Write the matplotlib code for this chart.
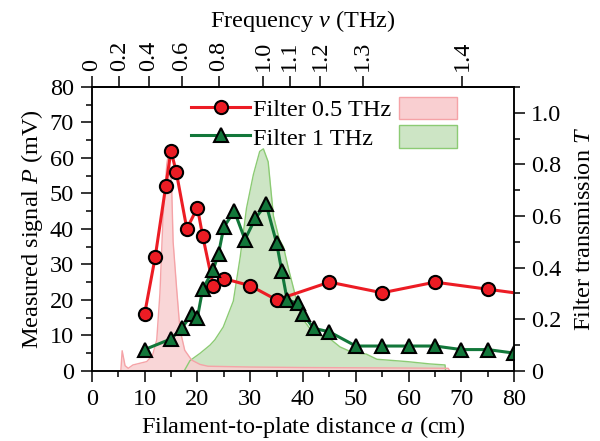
"""
Measured THz signal versus filament-to-plate distance for two band-pass
filters, with the filter transmission curves drawn on a second axis.
"""
import matplotlib.pyplot as plt
from matplotlib.patches import Patch
from matplotlib.ticker import MultipleLocator

plt.rcParams["font.family"] = "Liberation Serif"
plt.rcParams["mathtext.fontset"] = "custom"
plt.rcParams["mathtext.rm"] = "Liberation Serif"
plt.rcParams["mathtext.it"] = "Liberation Serif:italic"
plt.rcParams["font.size"] = 17.5

# Signal, filter 0.5 THz (last point only continues the line, no marker)
dist_05 = [10, 12, 14, 15, 16, 18, 20, 21, 23, 25, 30, 35, 45, 55, 65, 75, 80]
sig_05 = [16, 32, 52, 62, 56, 40, 46, 38, 24, 26, 24, 20, 25, 22, 25, 23, 22]

# Signal, filter 1 THz
dist_1 = [10, 15, 17, 19, 20, 21, 23, 24, 25, 27, 29, 31, 33, 35, 36, 37,
          39, 40, 42, 45, 50, 55, 60, 65, 70, 75, 80]
sig_1 = [6, 9, 12, 16, 15, 23, 28.5, 33, 40.5, 45, 37, 43, 47, 36, 28, 20,
         19, 16, 12, 11, 7, 7, 7, 7, 6, 6, 5]

# Filter transmission, mapped onto distance
trans_05_a = [5.5, 5.75, 6.3, 6.9, 7.8, 10.4, 11.5, 12.3, 12.9, 13.5, 14.2,
              14.5, 15.1, 15.4, 16.1, 16.7, 17.6, 18.9, 20.5, 22, 30, 40, 50,
              60, 67.5, 67.8]
trans_05 = [0, 0.078, 0.02, 0.01, 0.023, 0.036, 0.06, 0.12, 0.3, 0.6, 0.8,
            0.84, 0.73, 0.5, 0.31, 0.16, 0.08, 0.042, 0.025, 0.018, 0.015,
            0.013, 0.012, 0.011, 0.01, 0]
trans_1_a = [17.5, 18.6, 20.5, 22.4, 23.3, 24.9, 26.8, 28.1, 29.3, 30.6, 31.8,
             32.5, 33.4, 34.4, 35.5, 36.3, 37.2, 38.2, 38.8, 40, 42, 45, 47,
             49.5, 52, 54, 59.7, 64, 66.9, 67]
trans_1 = [0, 0.04, 0.068, 0.1, 0.12, 0.17, 0.27, 0.44, 0.63, 0.76, 0.85,
           0.86, 0.81, 0.6, 0.51, 0.48, 0.40, 0.32, 0.27, 0.2, 0.145, 0.126,
           0.093, 0.07, 0.065, 0.045, 0.036, 0.027, 0.023, 0]

# Top axis: frequency ticks at their distance positions
freq_labels = ["0", "0.2", "0.4", "0.6", "0.8", "1.0", "1.1", "1.2", "1.3", "1.4"]
freq_pos = [0, 5.2, 10.8, 17.0, 24.1, 32.5, 37.5, 43.3, 51.3, 70.1]

red = "#ec1c24"
green = "#12773a"
pink_face = "#f9cfd1"
pink_edge = "#f5a3a7"
green_face = "#cde5c5"
green_edge = "#8ccb74"

fig = plt.figure(figsize=(6, 4.41), dpi=100)
ax = fig.add_axes([0.153, 0.159, 0.704, 0.644])
ax_t = ax.twinx()

ax_t.fill_between(trans_1_a, trans_1, color=green_face, lw=0)
ax_t.plot(trans_1_a, trans_1, color=green_edge, lw=1.0)
ax_t.fill_between(trans_05_a, trans_05, color=pink_face, alpha=0.85, lw=0)
ax_t.plot(trans_05_a, trans_05, color=pink_edge, lw=1.0)
ax_t.set_ylim(0, 1.1)
ax_t.set_yticks([0, 0.2, 0.4, 0.6, 0.8, 1.0],
                labels=["0", "0.2", "0.4", "0.6", "0.8", "1.0"])
ax_t.yaxis.set_minor_locator(MultipleLocator(0.1))
ax_t.set_ylabel("Filter transmission $T$", labelpad=9)

ax.set_zorder(ax_t.get_zorder() + 1)
ax.patch.set_visible(False)

l1, = ax.plot(dist_05, sig_05, color=red, lw=2.2, marker="o", ms=9.5,
              mfc=red, mec="black", mew=1.5, markevery=list(range(16)))
l2, = ax.plot(dist_1, sig_1, color=green, lw=2.2, marker="^", ms=9.5,
              mfc=green, mec="black", mew=1.5)

ax.set_xlim(0, 80)
ax.set_ylim(0, 80)
ax.xaxis.set_major_locator(MultipleLocator(10))
ax.xaxis.set_minor_locator(MultipleLocator(5))
ax.yaxis.set_major_locator(MultipleLocator(10))
ax.yaxis.set_minor_locator(MultipleLocator(5))
ax.set_xlabel("Filament-to-plate distance $a$ (cm)", labelpad=3)
ax.set_ylabel("Measured signal $P$ (mV)", labelpad=3)

top = ax.secondary_xaxis("top")
top.set_xticks(freq_pos, labels=freq_labels, rotation=90)
top.set_xlabel(r"Frequency $\nu$ (THz)", labelpad=10)

for a in (ax, ax_t, top):
    a.tick_params(which="major", direction="out", length=8, width=1.1)
    a.tick_params(which="minor", direction="out", length=4.5, width=1.1)
    for s in a.spines.values():
        s.set_linewidth(1.1)
ax.tick_params(axis="x", which="major", pad=5)
ax.tick_params(axis="y", which="major", pad=5)
ax_t.tick_params(axis="y", which="major", pad=4)
top.tick_params(axis="x", which="major", pad=3.5)

p1 = Patch(facecolor=pink_face, edgecolor=pink_edge, lw=1.0)
p2 = Patch(facecolor=green_face, edgecolor=green_edge, lw=1.0)
ax.legend([l1, l2, p1, p2], ["Filter 0.5 THz", "Filter 1 THz", "", ""],
          ncol=2, loc="upper left", bbox_to_anchor=(0.207, 1.008),
          frameon=False, borderpad=0, handlelength=2.4, handleheight=1.05,
          handletextpad=0.15, columnspacing=0.3, labelspacing=0.15)

fig.savefig("out.png", dpi=100)
